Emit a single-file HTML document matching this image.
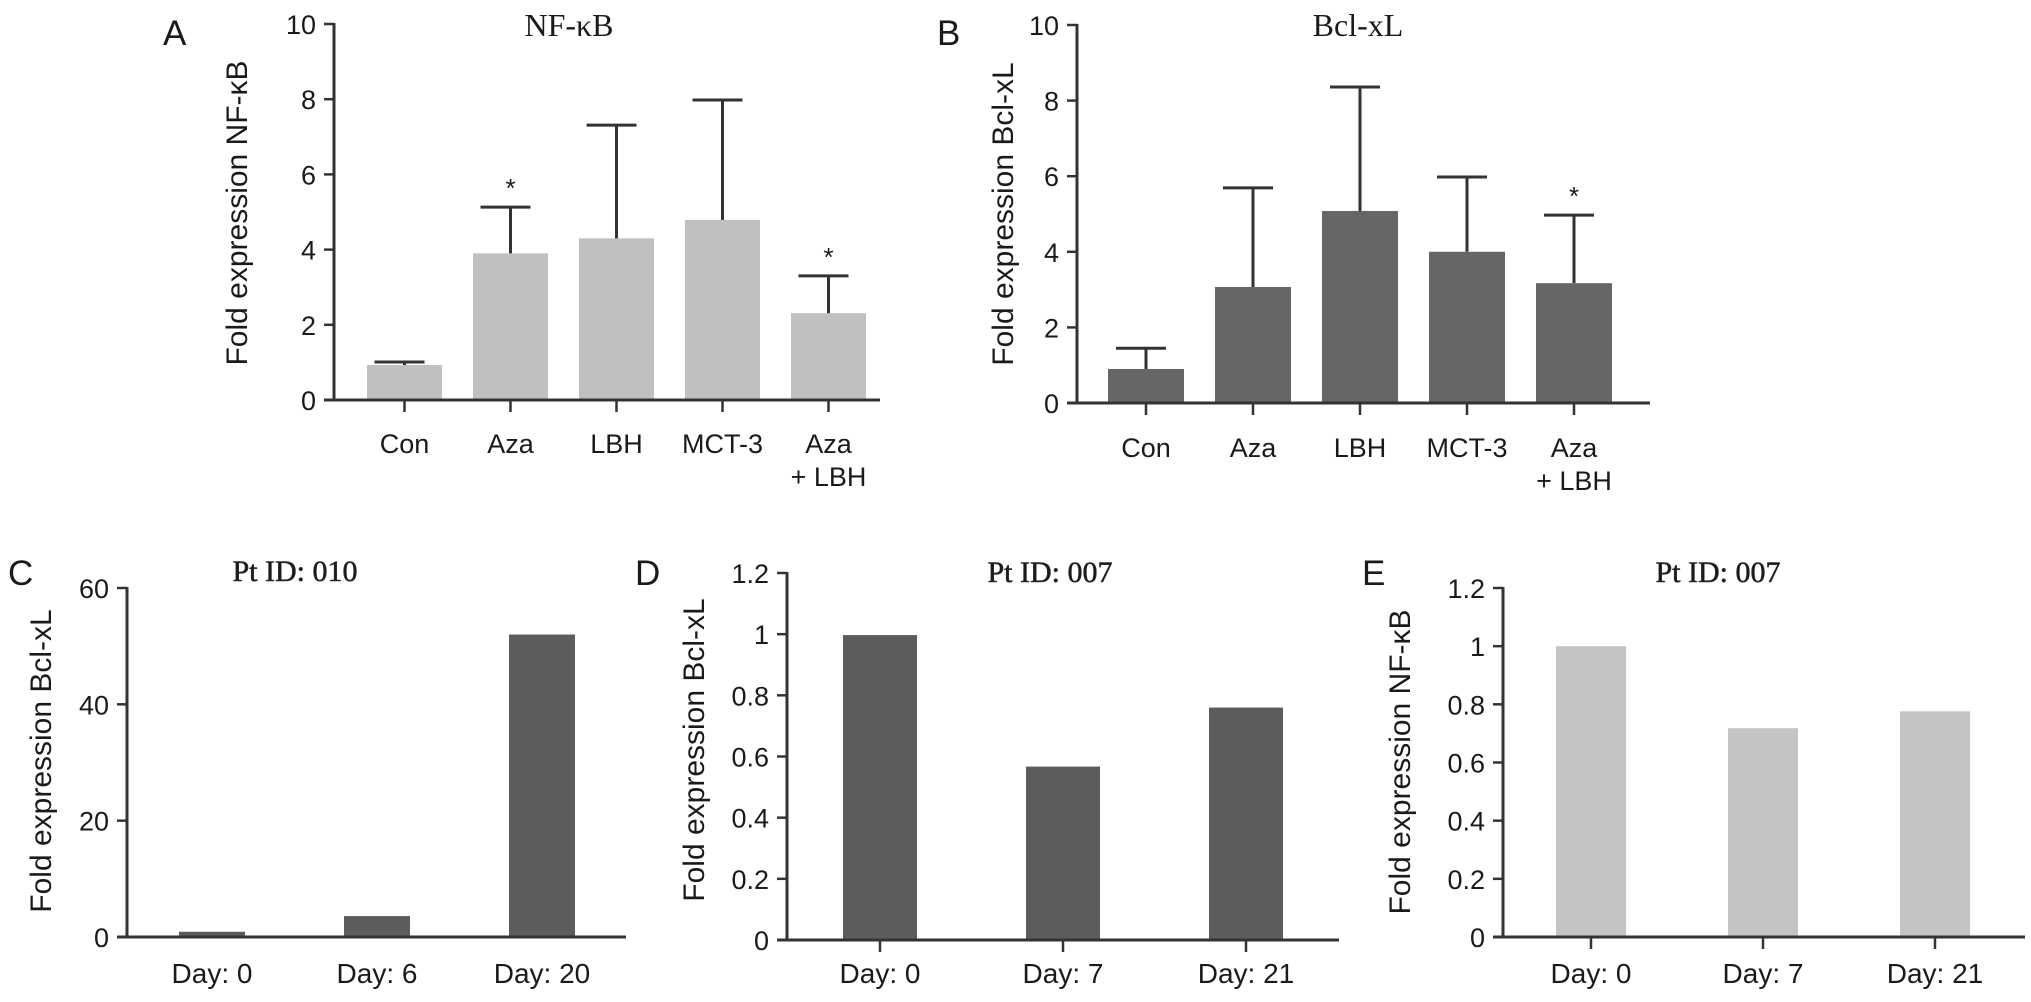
<!DOCTYPE html>
<html><head><meta charset="utf-8">
<style>
html,body{margin:0;padding:0;background:#fff;}
svg{display:block;}
text{font-family:"Liberation Sans",Arial,sans-serif;fill:#1a1a1a;}
.serif{font-family:"Liberation Serif","Times New Roman",serif;}
</style></head>
<body>
<svg id="fig" width="2031" height="1002" viewBox="0 0 2031 1002" xmlns="http://www.w3.org/2000/svg"></svg>
<script>
// ---- Panel A data (NF-kB) ----
const catsAB = ["Con", "Aza", "LBH", "MCT-3", "Aza|+ LBH"];
const valsA = [0.93, 3.9, 4.3, 4.79, 2.31];
const errA = [1.01, 5.13, 7.31, 7.98, 3.3];
const starA = [false, true, false, false, true];
const ticksAB = [0, 2, 4, 6, 8, 10];
// ---- Panel B data (Bcl-xL) ----
const valsB = [0.9, 3.07, 5.08, 4.0, 3.17];
const errB = [1.45, 5.69, 8.36, 5.98, 4.97];
const starB = [false, false, false, false, true];
// ---- Panel C data ----
const catsC = ["Day: 0", "Day: 6", "Day: 20"];
const valsC = [0.9, 3.6, 52];
const ticksC = [0, 20, 40, 60];
// ---- Panel D data ----
const catsD = ["Day: 0", "Day: 7", "Day: 21"];
const valsD = [0.997, 0.567, 0.76];
const ticksDE = [0, 0.2, 0.4, 0.6, 0.8, 1, 1.2];
// ---- Panel E data ----
const catsE = ["Day: 0", "Day: 7", "Day: 21"];
const valsE = [1.0, 0.718, 0.776];

const NS = "http://www.w3.org/2000/svg";
const svg = document.getElementById("fig");
function mk(tag, attrs, parent) {
  const e = document.createElementNS(NS, tag);
  for (const k in attrs) e.setAttribute(k, attrs[k]);
  (parent || svg).appendChild(e);
  return e;
}
function txt(str, x, y, size, anchor, parent, cls) {
  const t = mk("text", {x: x, y: y, "font-size": size, "text-anchor": anchor || "middle"}, parent);
  if (cls) t.setAttribute("class", cls);
  t.textContent = str;
  return t;
}

function panel(cfg) {
  const g = mk("g", {});
  
  
  const yScale = v => cfg.y0 - (v - cfg.vmin) / (cfg.vmax - cfg.vmin) * (cfg.y0 - cfg.yTop);
  const xCenter = i => cfg.firstCenter + i * cfg.step;
  const L = txt(cfg.letter, cfg.letterX, cfg.letterY, 35, "start", g);
  
  
  const T = txt(cfg.title, cfg.titleX, cfg.titleY, cfg.titleSize, "middle", g, "serif");
  T.setAttribute("fill", "#333");
  if (cfg.titleBold) { T.setAttribute("stroke", "#333"); T.setAttribute("stroke-width", "0.6"); }
  
  
  const yl = txt(cfg.ylabel, 0, 0, cfg.ylabelSize, "middle", g);
  yl.setAttribute("transform", "translate(" + cfg.ylabelX + "," + cfg.ylabelY + ") rotate(-90)");
  
  
  cfg.vals.forEach((v, i) => {
    const c = xCenter(i);
    const r = mk("rect", {x: c - cfg.barW / 2, y: yScale(v), width: cfg.barW, height: yScale(cfg.vmin) - yScale(v), fill: cfg.color}, g);
    
    
    if (cfg.err) {
      const e = cfg.err[i];
      const ln = mk("line", {x1: c, x2: c, y1: yScale(v), y2: yScale(e), stroke: "#333", "stroke-width": 3}, g);
      
      
      const cap = mk("line", {x1: c - 30, x2: c + 20, y1: yScale(e), y2: yScale(e), stroke: "#333", "stroke-width": 3}, g);
      
      
      if (cfg.stars[i]) {
        const s = txt("*", c, yScale(e) - 10, 26, "middle", g);
        
        
      }
    }
  });
  const ya = mk("line", {x1: cfg.axisX, x2: cfg.axisX, y1: cfg.yTop - 1, y2: cfg.y0 + 1, stroke: "#333", "stroke-width": 3}, g);
  
  
  const xa = mk("line", {x1: cfg.axisX - 10, x2: cfg.xEnd, y1: cfg.y0, y2: cfg.y0, stroke: "#333", "stroke-width": 3}, g);
  
  
  cfg.ticks.forEach(t => {
    const y = yScale(t);
    const tk = mk("line", {x1: cfg.axisX - 10, x2: cfg.axisX, y1: y, y2: y, stroke: "#333", "stroke-width": 2.5}, g);
    
    
    const lb = txt(String(t), cfg.axisX - 18, y + 10, 27, "end", g);
    
    
  });
  cfg.cats.forEach((c, i) => {
    const x = xCenter(i);
    if (cfg.xTicks) {
      const tk = mk("line", {x1: x, x2: x, y1: cfg.y0, y2: cfg.y0 + 12, stroke: "#333", "stroke-width": 2.5}, g);
      
      
    }
    const parts = c.split("|");
    parts.forEach((p, j) => {
      const lb = txt(p, x, cfg.catY + j * 33, cfg.catSize, "middle", g);
      
      
    });
  });
}

panel({name: "panel-a-nfkb", letter: "A", letterX: 163, letterY: 45, title: "NF-κB", titleX: 569, titleY: 36, titleSize: 32,
  ylabel: "Fold expression NF-κB", ylabelX: 247, ylabelY: 213, ylabelSize: 30,
  cats: catsAB, vals: valsA, err: errA, stars: starA, ticks: ticksAB, vmin: 0, vmax: 10,
  axisX: 334, yTop: 24, y0: 400, xEnd: 880, firstCenter: 404.5, step: 106, barW: 75, color: "#c0c0c0",
  xTicks: true, catY: 453, catSize: 27});

panel({name: "panel-b-bclxl", letter: "B", letterX: 937, letterY: 45, title: "Bcl-xL", titleX: 1358, titleY: 36, titleSize: 32,
  ylabel: "Fold expression Bcl-xL", ylabelX: 1013, ylabelY: 214, ylabelSize: 30,
  cats: catsAB, vals: valsB, err: errB, stars: starB, ticks: ticksAB, vmin: 0, vmax: 10,
  axisX: 1077, yTop: 25, y0: 403, xEnd: 1650, firstCenter: 1146, step: 107, barW: 76, color: "#666666",
  xTicks: true, catY: 457, catSize: 27});

panel({name: "panel-c-pt010", letter: "C", letterX: 8, letterY: 585, title: "Pt ID: 010", titleX: 295, titleY: 581, titleSize: 30, titleBold: true,
  ylabel: "Fold expression Bcl-xL", ylabelX: 51, ylabelY: 761, ylabelSize: 30,
  cats: catsC, vals: valsC, ticks: ticksC, vmin: 0, vmax: 60,
  axisX: 127, yTop: 588, y0: 937, xEnd: 626, firstCenter: 212, step: 165, barW: 66, color: "#5c5c5c",
  xTicks: false, catY: 983, catSize: 28});

panel({name: "panel-d-pt007-bclxl", letter: "D", letterX: 635, letterY: 585, title: "Pt ID: 007", titleX: 1050, titleY: 582, titleSize: 30, titleBold: true,
  ylabel: "Fold expression Bcl-xL", ylabelX: 704, ylabelY: 750, ylabelSize: 30,
  cats: catsD, vals: valsD, ticks: ticksDE, vmin: 0, vmax: 1.2,
  axisX: 787, yTop: 573, y0: 940, xEnd: 1339, firstCenter: 880, step: 183, barW: 74, color: "#5c5c5c",
  xTicks: true, catY: 983, catSize: 28});

panel({name: "panel-e-pt007-nfkb", letter: "E", letterX: 1362, letterY: 585, title: "Pt ID: 007", titleX: 1718, titleY: 582, titleSize: 30, titleBold: true,
  ylabel: "Fold expression NF-κB", ylabelX: 1410, ylabelY: 762, ylabelSize: 30,
  cats: catsE, vals: valsE, ticks: ticksDE, vmin: 0, vmax: 1.2,
  axisX: 1503, yTop: 588, y0: 937, xEnd: 2025, firstCenter: 1591, step: 172, barW: 70, color: "#c4c4c4",
  xTicks: true, catY: 983, catSize: 28});
</script>
</body></html>
